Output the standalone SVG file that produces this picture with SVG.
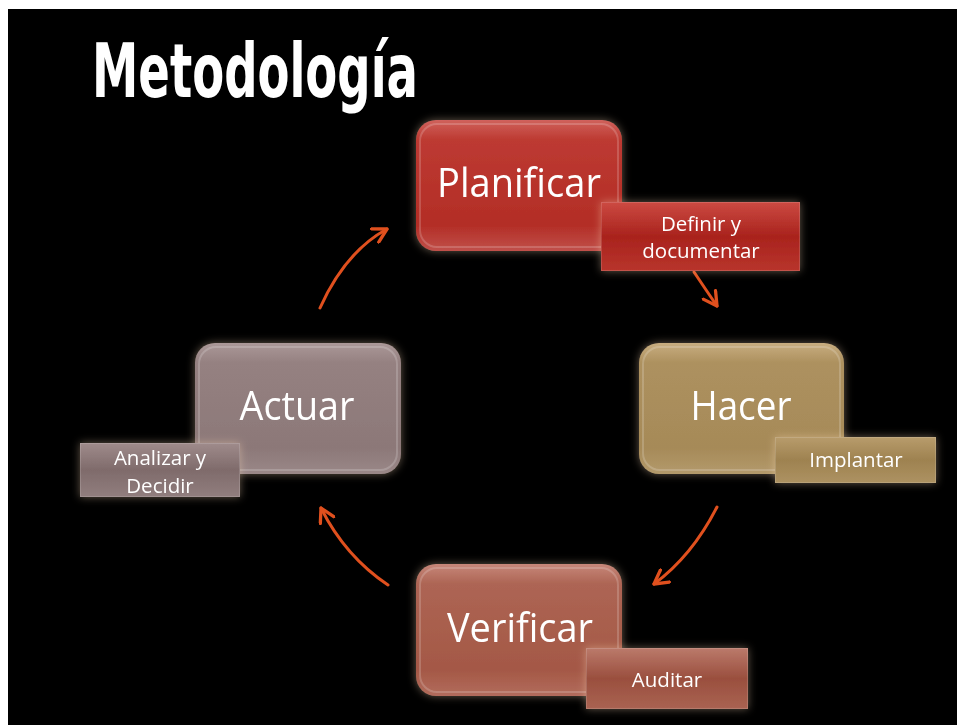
<svg xmlns="http://www.w3.org/2000/svg" width="957" height="725" viewBox="0 0 957 725">
<defs>
<style>
.main{font-family:"Open Sans","Liberation Sans",sans-serif;font-size:41px;fill:#fff;text-anchor:middle}
.sub{font-family:"Open Sans","Liberation Sans",sans-serif;font-size:20.5px;fill:#fff;text-anchor:middle}
.title{font-family:"DejaVu Sans Condensed","DejaVu Sans",sans-serif;font-weight:bold;font-size:74px;fill:#fff}
.conn{fill:none;stroke:#E0501E;stroke-width:3;stroke-linecap:round;marker-end:url(#ah)}
.bevel{fill:none;stroke:#fff;stroke-opacity:0.18;stroke-width:2}
.edge{fill:none;stroke:#fff;stroke-opacity:0.15;stroke-width:1}
</style>
<filter id="glow" x="-20%" y="-20%" width="140%" height="140%">
<feGaussianBlur in="SourceAlpha" stdDeviation="4" result="b"/>
<feFlood flood-color="#ffdcb8" flood-opacity="0.4"/>
<feComposite in2="b" operator="in" result="g"/>
<feMerge><feMergeNode in="g"/><feMergeNode in="SourceGraphic"/></feMerge>
</filter>
<marker id="ah" viewBox="0 0 12 12" refX="10" refY="6" markerWidth="6" markerHeight="6" orient="auto" markerUnits="strokeWidth">
<polyline points="1,1 10,6 1,11" fill="none" stroke="#E0501E" stroke-width="2.2" stroke-linecap="round" stroke-linejoin="round"/>
</marker>
<linearGradient id="gRed" x1="0" y1="0" x2="0" y2="1">
<stop offset="0" stop-color="#d0625c"/><stop offset="0.15" stop-color="#bd3a32"/><stop offset="0.8" stop-color="#b32d26"/><stop offset="1" stop-color="#c0504a"/>
</linearGradient>
<linearGradient id="gRedS" x1="0" y1="0" x2="0" y2="1">
<stop offset="0" stop-color="#cc4a42"/><stop offset="0.5" stop-color="#a9231d"/><stop offset="1" stop-color="#b8342c"/>
</linearGradient>
<linearGradient id="gTan" x1="0" y1="0" x2="0" y2="1">
<stop offset="0" stop-color="#c8ad80"/><stop offset="0.15" stop-color="#ad915f"/><stop offset="0.8" stop-color="#a68a58"/><stop offset="1" stop-color="#b39a6c"/>
</linearGradient>
<linearGradient id="gTanS" x1="0" y1="0" x2="0" y2="1">
<stop offset="0" stop-color="#b89c6c"/><stop offset="0.5" stop-color="#9e8250"/><stop offset="1" stop-color="#ad9262"/>
</linearGradient>
<linearGradient id="gMauve" x1="0" y1="0" x2="0" y2="1">
<stop offset="0" stop-color="#ab9898"/><stop offset="0.15" stop-color="#958181"/><stop offset="0.8" stop-color="#8c7878"/><stop offset="1" stop-color="#9a8888"/>
</linearGradient>
<linearGradient id="gMauveS" x1="0" y1="0" x2="0" y2="1">
<stop offset="0" stop-color="#9f8b8b"/><stop offset="0.5" stop-color="#7f6b6b"/><stop offset="1" stop-color="#917e7e"/>
</linearGradient>
<linearGradient id="gBrick" x1="0" y1="0" x2="0" y2="1">
<stop offset="0" stop-color="#c7877a"/><stop offset="0.15" stop-color="#ad6554"/><stop offset="0.8" stop-color="#a45846"/><stop offset="1" stop-color="#b26c5c"/>
</linearGradient>
<linearGradient id="gBrickS" x1="0" y1="0" x2="0" y2="1">
<stop offset="0" stop-color="#bb7a6b"/><stop offset="0.5" stop-color="#9a4f3e"/><stop offset="1" stop-color="#a96352"/>
</linearGradient>
</defs>
<rect x="0" y="0" width="957" height="725" fill="#fff"/>
<rect x="8" y="9" width="949" height="716" fill="#000"/>
<text class="title" x="92" y="97" textLength="326" lengthAdjust="spacingAndGlyphs">Metodología</text>
<g id="connectors">
<path class="conn" d="M320,308 Q345,252 387,229"/>
<path class="conn" d="M694,272 Q706,290 717,306"/>
<path class="conn" d="M717,507 Q692,556 654,584"/>
<path class="conn" d="M388,585 Q345,556 321,508"/>
</g>
<g id="planificar" filter="url(#glow)">
<rect x="416" y="120" width="206" height="131" rx="20" fill="url(#gRed)"/>
<rect x="420" y="124" width="198" height="123" rx="17" class="bevel"/>
<text class="main" x="519" y="197" textLength="164" lengthAdjust="spacingAndGlyphs">Planificar</text>
</g>
<g id="definir" filter="url(#glow)">
<rect x="601" y="202" width="199" height="69" fill="url(#gRedS)"/>
<rect x="601.5" y="202.5" width="198" height="68" class="edge"/>
<text class="sub" x="701" y="231">Definir y</text>
<text class="sub" x="701" y="258">documentar</text>
</g>
<g id="hacer" filter="url(#glow)">
<rect x="639" y="343" width="205" height="131" rx="20" fill="url(#gTan)"/>
<rect x="643" y="347" width="197" height="123" rx="17" class="bevel"/>
<text class="main" x="741" y="420" textLength="101" lengthAdjust="spacingAndGlyphs">Hacer</text>
</g>
<g id="implantar" filter="url(#glow)">
<rect x="775" y="437" width="161" height="46" fill="url(#gTanS)"/>
<rect x="775.5" y="437.5" width="160" height="45" class="edge"/>
<text class="sub" x="856" y="467">Implantar</text>
</g>
<g id="actuar" filter="url(#glow)">
<rect x="195" y="343" width="206" height="131" rx="20" fill="url(#gMauve)"/>
<rect x="199" y="347" width="198" height="123" rx="17" class="bevel"/>
<text class="main" x="297" y="420" textLength="115" lengthAdjust="spacingAndGlyphs">Actuar</text>
</g>
<g id="analizar" filter="url(#glow)">
<rect x="80" y="443" width="160" height="54" fill="url(#gMauveS)"/>
<rect x="80.5" y="443.5" width="159" height="53" class="edge"/>
<text class="sub" x="160" y="465">Analizar y</text>
<text class="sub" x="160" y="493">Decidir</text>
</g>
<g id="verificar" filter="url(#glow)">
<rect x="416" y="564" width="206" height="132" rx="20" fill="url(#gBrick)"/>
<rect x="420" y="568" width="198" height="124" rx="17" class="bevel"/>
<text class="main" x="520" y="642" textLength="146" lengthAdjust="spacingAndGlyphs">Verificar</text>
</g>
<g id="auditar" filter="url(#glow)">
<rect x="586" y="648" width="162" height="61" fill="url(#gBrickS)"/>
<rect x="586.5" y="648.5" width="161" height="60" class="edge"/>
<text class="sub" x="667" y="687">Auditar</text>
</g>
</svg>
